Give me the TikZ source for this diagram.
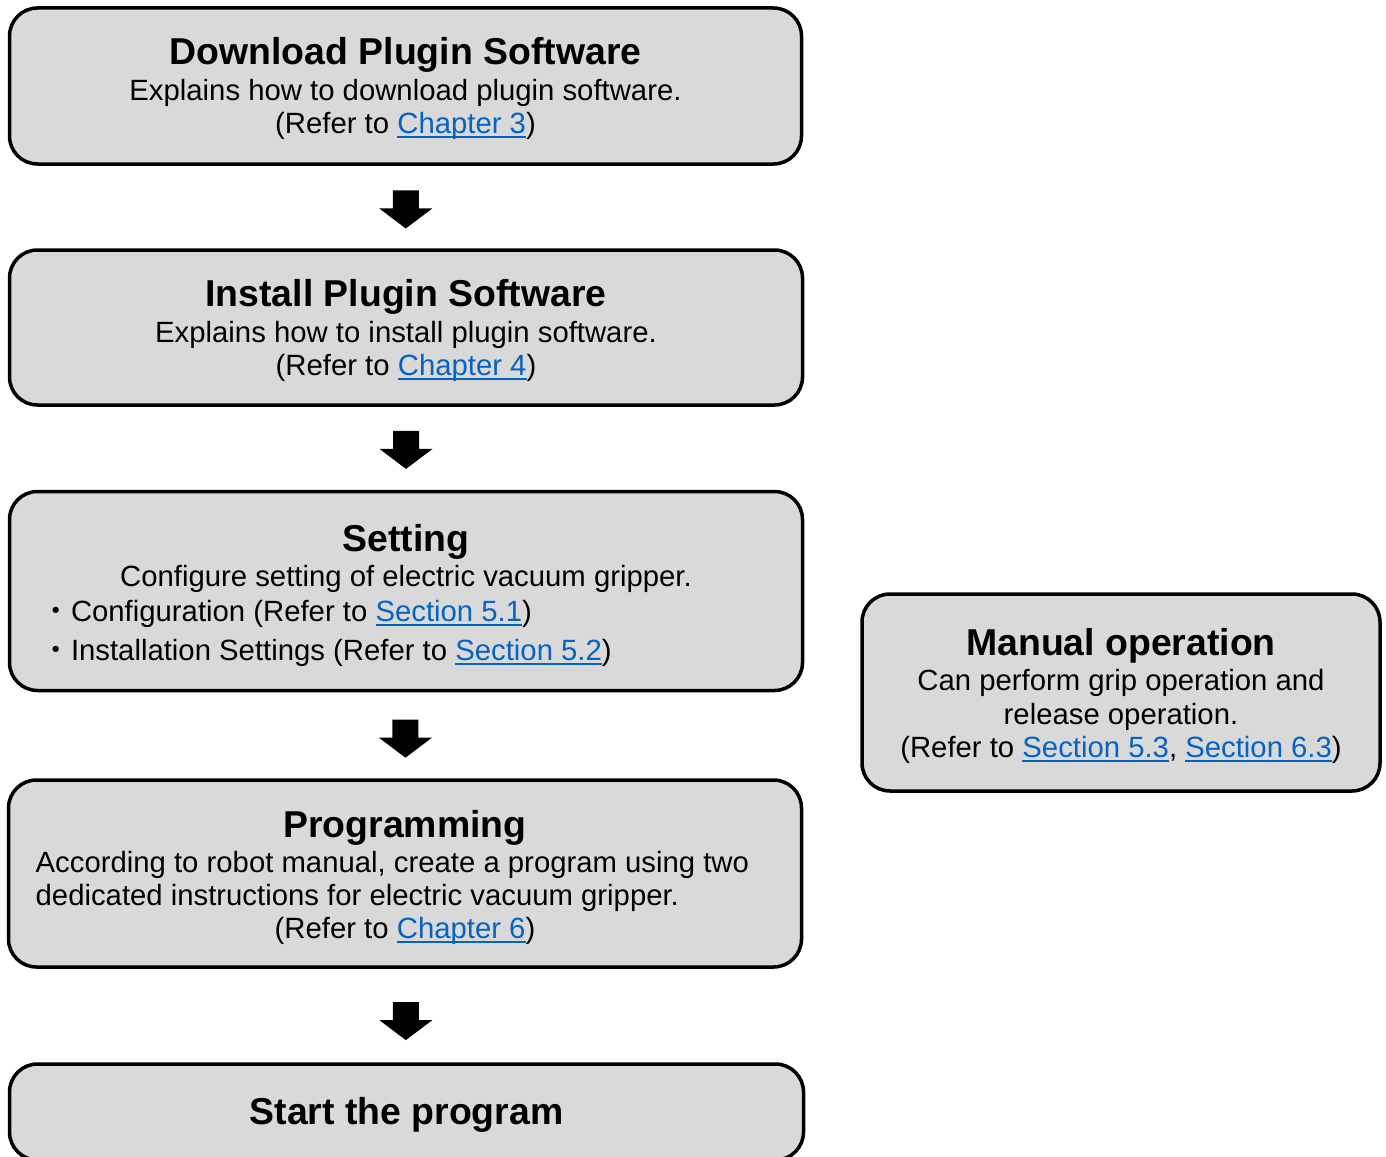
\documentclass[tikz,border=0pt]{standalone}
\usepackage{fontspec}
\setmainfont{Liberation Sans}
\newfontfamily\cjk{Noto Sans CJK JP}
\usetikzlibrary{positioning,calc}

\definecolor{boxgray}{HTML}{D9D9D9}
\definecolor{linkblue}{HTML}{0563C1}

% blue underlined cross reference
\newcommand{\reflink}[1]{{\color{linkblue}\setbox0\hbox{#1}\rlap{\rule[-4.5pt]{\wd0}{1.8pt}}\box0}}
% thick block arrow pointing down, centred on a coordinate
\newcommand{\downblock}[1]{\fill ([shift={(-13,-19)}]#1) -- ++(26,0) -- ++(0,18) -- ++(13.5,0) -- ++(-26.5,20) -- ++(-26.5,-20) -- ++(13.5,0) -- cycle;}

\begin{document}
\begin{tikzpicture}[x=1pt, y=-1pt,
    stepbox/.style={draw, line width=3.5pt, fill=boxgray, rounded corners=28pt, inner sep=0pt},
    titletext/.style={anchor=base, inner sep=0pt, font=\fontsize{37.4}{44}\selectfont\bfseries},
    bodytext/.style={anchor=base, inner sep=0pt, font=\fontsize{29.3}{34}\selectfont}]
  \useasboundingbox (0,0) rectangle (1386,1156);

  % boxes
  \node[stepbox, minimum width=792, minimum height=156] (dl) at (405.5,86) {};
  \node[stepbox, minimum width=793, minimum height=155] (inst) at (406,327.5) {};
  \node[stepbox, minimum width=793, minimum height=199] (set) at (406,591) {};
  \node[stepbox, minimum width=793, minimum height=187] (prog) at (405,873.5) {};
  \node[stepbox, minimum width=794, minimum height=96] (start) at (406.5,1112) {};
  \node[stepbox, minimum width=518, minimum height=197] (manual) at (1121,692.5) {};

  % Download
  \node[titletext] (dlT) at (405.5,64.5) {Download Plugin Software};
  \node[bodytext] (dlA) at (405.5,100.5) {Explains how to download plugin software.};
  \node[bodytext] (dlB) at (405.5,133.5) {(Refer to \reflink{Chapter 3})};

  % Install
  \node[titletext] (instT) at (406,306) {Install Plugin Software};
  \node[bodytext] (instA) at (406,342) {Explains how to install plugin software.};
  \node[bodytext] (instB) at (406,375.5) {(Refer to \reflink{Chapter 4})};

  % Setting
  \node[titletext] (setT) at (406,551) {Setting};
  \node[bodytext] (setA) at (406,586) {Configure setting of electric vacuum gripper.};
  \node[bodytext, anchor=base west] (setB) at (41.5,621) {{\cjk ・}Configuration (Refer to \reflink{Section 5.1})};
  \node[bodytext, anchor=base west] (setC) at (41.5,660) {{\cjk ・}Installation Settings (Refer to \reflink{Section 5.2})};

  % Programming
  \node[titletext] (progT) at (405,837) {Programming};
  \node[bodytext, anchor=base west] (progA) at (35.5,872) {According to robot manual, create a program using two};
  \node[bodytext, anchor=base west] (progB) at (35.5,905) {dedicated instructions for electric vacuum gripper.};
  \node[bodytext] (progC) at (405,938.5) {(Refer to \reflink{Chapter 6})};

  % Start
  \node[titletext] (startT) at (406.5,1124) {Start the program};

  % Manual operation
  \node[titletext] (manT) at (1121,655) {Manual operation};
  \node[bodytext] (manA) at (1121,690) {Can perform grip operation and};
  \node[bodytext] (manB) at (1121,724) {release operation.};
  \node[bodytext] (manC) at (1121,757) {(Refer to \reflink{Section 5.3}, \reflink{Section 6.3})};

  % arrows between the steps
  \coordinate (arr1) at ($(dl.south)!0.53!(inst.north)$);
  \coordinate (arr2) at ($(inst.south)!0.52!(set.north)$);
  \coordinate (arr3) at ($(set.south)!0.54!(prog.north)$);
  \coordinate (arr4) at ($(prog.south)!0.56!(start.north)$);
  \downblock{arr1}
  \downblock{arr2}
  \downblock{arr3}
  \downblock{arr4}
\end{tikzpicture}
\end{document}
